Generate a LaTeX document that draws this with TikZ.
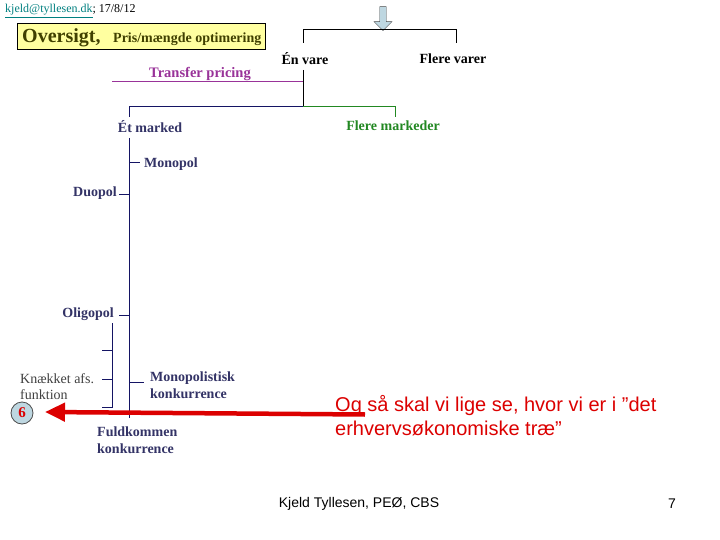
\documentclass[tikz,border=0pt]{standalone}
\usepackage{fontspec}
\setmainfont{Liberation Serif}
\newfontfamily\arialf{Liberation Sans}
\usetikzlibrary{arrows.meta,shapes.arrows}
\definecolor{navy}{RGB}{51,51,102}
\definecolor{navyline}{RGB}{20,20,100}
\definecolor{grn}{RGB}{34,136,34}
\definecolor{mag}{RGB}{153,51,153}
\definecolor{olive}{RGB}{64,64,0}
\definecolor{boxy}{RGB}{255,255,160}
\definecolor{teal2}{RGB}{0,128,128}
\definecolor{redd}{RGB}{220,0,0}
\definecolor{arrowfill}{RGB}{190,215,225}
\begin{document}
\begin{tikzpicture}[x=1pt,y=-1pt,
  lbl/.style={font=\bfseries\fontsize{14}{15}\selectfont, inner sep=0pt},
  nv/.style={lbl, text=navy},
  ln/.style={line width=1pt, navyline},
  gl/.style={line width=1pt, grn},
  bl/.style={line width=1pt, black}]
\useasboundingbox[fill=white] (0,0) rectangle (720,540);

% header
\node[anchor=west, inner sep=0pt, font=\fontsize{12}{14}\selectfont] (mail) at (5,11)
  {\textcolor{teal2}{\underline{kjeld@tyllesen.dk}}; 17/8/12};
\node[draw=black, line width=1pt, fill=boxy, anchor=north west, minimum width=248pt, minimum height=26pt, inner sep=0pt] (title) at (17,23) {};
\node[anchor=base west, inner sep=0pt, text=olive, font=\bfseries\fontsize{20}{22}\selectfont] (ov) at (22,43) {Oversigt,};
\node[anchor=base west, inner sep=0pt, text=olive, font=\bfseries\fontsize{14}{15}\selectfont] (pm) at (113,43) {Pris/mængde optimering};

% top arrow
\node[single arrow, shape border rotate=270, draw=black!70, fill=arrowfill, minimum height=24pt, minimum width=18pt, single arrow head extend=3pt, inner sep=1.5pt] (tarr) at (383,17) {};

% black bracket
\coordinate (bL) at (303,30);
\coordinate (bR) at (456,30);
\draw[bl] (303,43) -- (bL) -- (bR) -- (456,43);
\node[lbl, text=black] (en) at (305,59) {Én vare};
\node[lbl, text=black] (flv) at (453,59) {Flere varer};

% transfer pricing
\node[lbl, text=mag, font=\bfseries\fontsize{14.5}{15}\selectfont] (tp) at (200,74) {Transfer pricing};
\coordinate (tpl) at (112,82);
\coordinate (tpr) at (303,82);
\draw[line width=1pt, mag] (tpl) -- (tpr);
\draw[bl] (303,70) -- (303,107);

% markets
\draw[ln] (129,117) -- (129,107) -- (303,107);
\draw[gl] (303,107) -- (395,107) -- (395,117);
\node[nv] (et) at (150,127) {Ét marked};
\node[lbl, text=grn] (flm) at (393,126) {Flere markeder};

% main vertical
\draw[ln] (129,138) -- (129,418);
\node[nv, anchor=west] (mono) at (144,164) {Monopol};
\draw[ln] (129,163) -- (140,163);
\node[nv, anchor=east] (duo) at (117,193) {Duopol};
\draw[ln] (119,195) -- (129,195);
\node[nv, anchor=east] (oli) at (114,314) {Oligopol};
\draw[ln] (119,315) -- (129,315);

% second vertical
\draw[ln] (112,323) -- (112,407) -- (102,407);
\draw[ln] (102,350) -- (112,350);
\draw[ln] (102,379) -- (112,379);
\node[anchor=west, inner sep=0pt, text=black!75, align=left, font=\fontsize{14}{16}\selectfont] (kn) at (20,387) {Knækket afs.\\funktion};

\draw[ln] (129,382) -- (144,382);
\node[nv, anchor=west, align=left, font=\bfseries\fontsize{14}{17}\selectfont] (mk) at (150,385) {Monopolistisk\\konkurrence};
\node[nv, anchor=west, align=left, font=\bfseries\fontsize{14}{17}\selectfont] (fk) at (97,440) {Fuldkommen\\konkurrence};

% circle 6
\node[circle, draw=black!70, line width=0.8pt, fill=arrowfill, minimum size=22pt, inner sep=0pt, text=redd, font=\bfseries\fontsize{15}{15}\selectfont] (six) at (22,413) {6};

% red arrow
\coordinate (rs) at (365,414.5);
\coordinate (re) at (45,412);
\draw[redd, line width=4.5pt, -{Triangle[length=20pt, width=18pt]}] (rs) -- (re);

% red text
\node[anchor=west, inner sep=0pt, text=redd, align=left, font=\arialf\fontsize{20}{24}\selectfont] (og) at (335,416) {Og så skal vi lige se, hvor vi er i ”det\\erhvervsøkonomiske træ”};

% footer
\node[inner sep=0pt, font=\arialf\fontsize{14}{16}\selectfont] (foot) at (359,504) {Kjeld Tyllesen, PEØ, CBS};
\node[inner sep=0pt, font=\arialf\fontsize{14}{16}\selectfont] (pg) at (672,504) {7};
\end{tikzpicture}
\end{document}
